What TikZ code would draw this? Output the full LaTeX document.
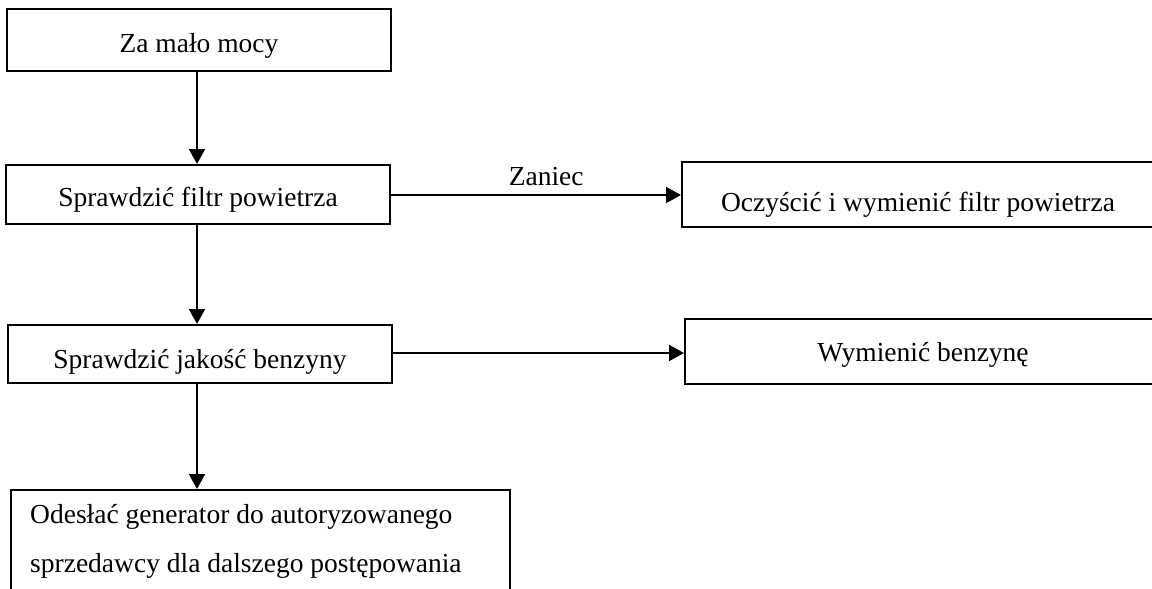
\documentclass[tikz,border=0pt]{standalone}
\usepackage{fontspec}
\setmainfont{Liberation Serif}
\usetikzlibrary{arrows.meta}
\begin{document}
\begin{tikzpicture}[x=1pt,y=-1pt,
  box/.style={draw, line width=2pt, inner sep=0pt, text depth=0pt, font=\fontsize{27.5}{48}\selectfont},
  conn/.style={line width=2pt, -{Triangle[length=15pt,width=16pt]}},
  lbl/.style={font=\fontsize{27.5}{48}\selectfont, inner sep=0pt}]
\useasboundingbox (0,0) rectangle (1152,589);
\clip (0,0) rectangle (1152,589);
\fill[white] (0,0) rectangle (1152,589);
\coordinate (ax) at (197,0);
\coordinate (ry1) at (0,195);
\coordinate (ry2) at (0,353);
\node[box, minimum width=384pt, minimum height=62pt, text height=25pt] (b1) at (199,40) {Za mało mocy};
\node[box, minimum width=384pt, minimum height=59pt, text height=24pt] (b2) at (198,194.5) {Sprawdzić filtr powietrza};
\node[box, minimum width=472pt, minimum height=65pt, text height=34pt] (b3) at (918,194.5) {Oczyścić i wymienić filtr powietrza};
\node[box, minimum width=384pt, minimum height=58pt, text height=28pt] (b4) at (200,354) {Sprawdzić jakość benzyny};
\node[box, minimum width=476pt, minimum height=65pt, text height=20pt] (b5) at (923,351.5) {Wymienić benzynę};
\node[box, anchor=north west, minimum width=499pt, minimum height=140pt] (b6) at (10,489) {};
\node[lbl, anchor=base west] (t6a) at (30,523) {Odesłać generator do autoryzowanego};
\node[lbl, anchor=base west] (t6b) at (30,572) {sprzedawcy dla dalszego postępowania};
\draw[conn] (b1.south -| ax) -- (b2.north -| ax);
\draw[conn] (b2.south -| ax) -- (b4.north -| ax);
\draw[conn] (b4.south -| ax) -- (b6.north -| ax);
\draw[conn] (b2.east |- ry1) -- node[lbl, pos=0.535, anchor=base, yshift=10pt] (z) {Zaniec} (b3.west |- ry1);
\draw[conn] (b4.east |- ry2) -- (b5.west |- ry2);
\end{tikzpicture}
\end{document}
